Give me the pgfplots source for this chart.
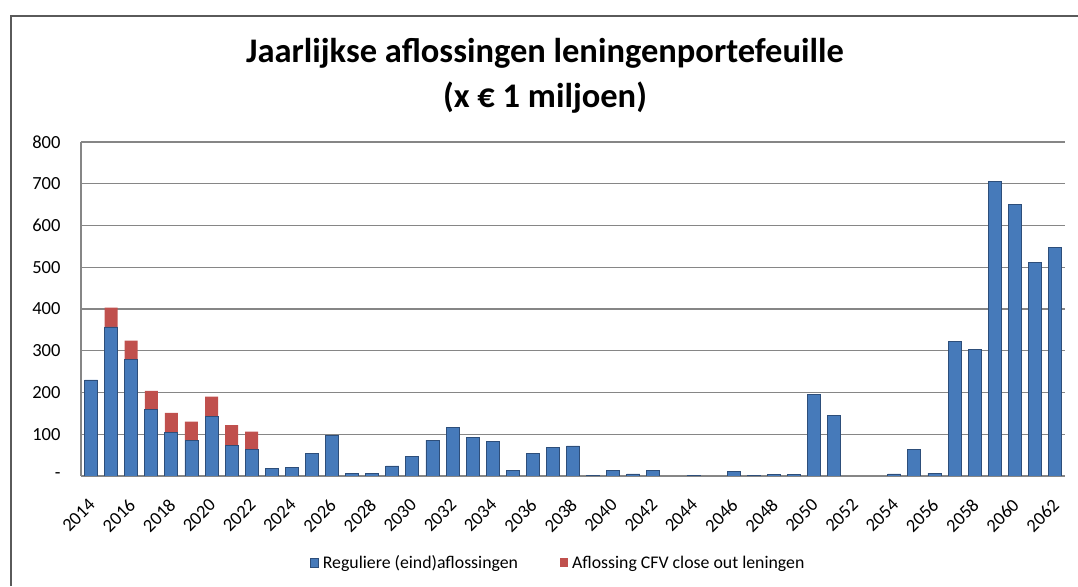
\documentclass[border=0pt]{standalone}
\usepackage{pgfplots}
\usepackage{pgfplotstable}
\pgfplotsset{compat=1.18}
\usepackage{fontspec}
\setmainfont{Carlito}
\definecolor{barblue}{RGB}{70,122,186}
\definecolor{edgeblue}{RGB}{45,78,122}
\definecolor{barred}{RGB}{192,80,77}
\definecolor{gridgray}{RGB}{134,134,134}
\definecolor{framegray}{RGB}{90,90,90}

\pgfplotstableread{
year blue red
2014 230 0
2015 357 46
2016 279 45
2017 159 45
2018 104 47
2019 85 45
2020 143 47
2021 74 48
2022 64 42
2023 18 0
2024 20 0
2025 53 0
2026 97 0
2027 6 0
2028 6 0
2029 24 0
2030 46 0
2031 86 0
2032 116 0
2033 93 0
2034 82 0
2035 13 0
2036 54 0
2037 69 0
2038 72 0
2039 2 0
2040 13 0
2041 5 0
2042 13 0
2043 0 0
2044 2 0
2045 0 0
2046 10 0
2047 2 0
2048 4 0
2049 4 0
2050 196 0
2051 146 0
2052 0 0
2053 0 0
2054 5 0
2055 64 0
2056 6 0
2057 322 0
2058 304 0
2059 706 0
2060 651 0
2061 511 0
2062 548 0
}\datatable

\begin{document}
\begin{tikzpicture}
\useasboundingbox (0pt,0pt) rectangle (1078pt,586pt);
\draw[framegray, line width=1.6pt] (11pt,0pt) -- (11pt,570pt) -- (1078pt,570pt);
\node[anchor=base, font=\bfseries\fontsize{34.5}{40}\selectfont] at (545pt,523pt) {Jaarlijkse aflossingen leningenportefeuille};
\node[anchor=base, font=\bfseries\fontsize{34.5}{40}\selectfont] at (545pt,478pt) {(x € 1 miljoen)};
\begin{axis}[
  at={(81pt,110pt)}, anchor=south west,
  scale only axis, width=984pt, height=334pt,
  xmin=2013.5, xmax=2062.5, ymin=0, ymax=800,
  ybar stacked, bar width=13pt,
  axis x line*=bottom, axis y line*=left,
  axis line style={gridgray, line width=1.2pt, -},
  ymajorgrids, grid style={gridgray, line width=1.2pt},
  major tick length=0pt,
  xtick={2014,2016,...,2062},
  ytick={0,100,...,800},
  yticklabels={-,100,200,300,400,500,600,700,800},
  /pgf/number format/1000 sep={},
  /pgf/number format/assume math mode=true,
  ticklabel style={font=\fontsize{18.5}{20}\selectfont},
  yticklabel style={anchor=east, xshift=-17pt},
  xticklabel style={anchor=east, inner sep=0pt, xshift=1pt, yshift=-26pt, rotate=45},
  legend style={at={(0.485,-0.26)}, anchor=center, draw=none, legend columns=2,
    font=\fontsize{17.8}{20}\selectfont,
    /tikz/every odd column/.append style={column sep=2pt},
    /tikz/every even column/.append style={column sep=40pt}},
  legend image code/.code={\fill[#1] (0pt,-4.5pt) rectangle (8pt,4.5pt);},
]
\addplot[fill=barblue, draw=edgeblue, line width=0.8pt] table[x=year, y=blue] {\datatable};
\addplot[fill=barred, draw=none] table[x=year, y=red] {\datatable};
\legend{Reguliere (eind)aflossingen, Aflossing CFV close out leningen}
\end{axis}
\end{tikzpicture}
\end{document}
